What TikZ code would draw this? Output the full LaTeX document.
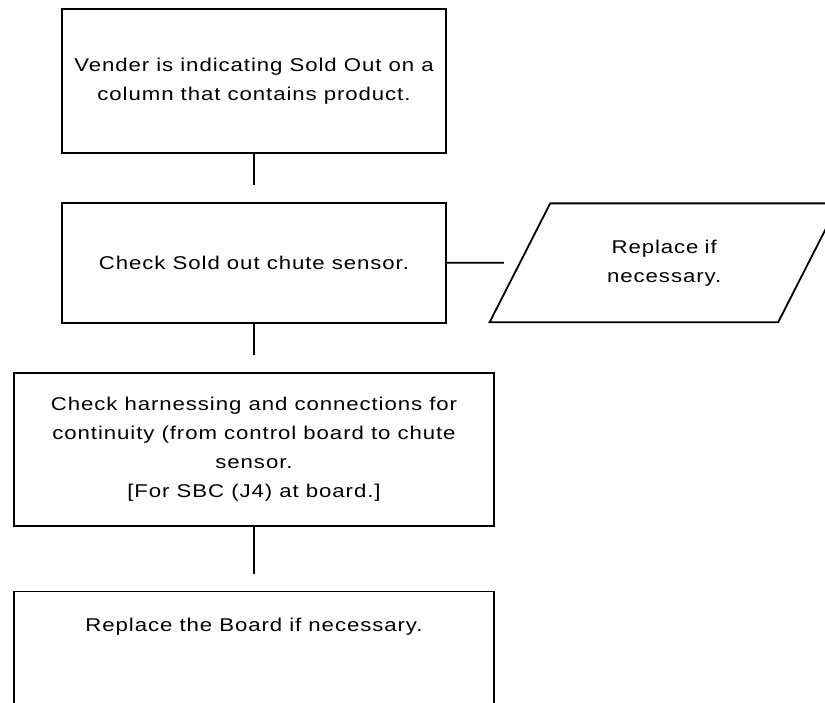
\documentclass[tikz,border=0pt]{standalone}
\usepackage{fontspec}
\setmainfont[FakeStretch=1.2, LetterSpace=5]{Liberation Sans}
\usetikzlibrary{positioning, shapes.geometric}

\begin{document}
\begin{tikzpicture}[
            x=1pt, y=-1pt,
            node distance=48pt,
            box/.style={rectangle, draw=black, line width=1.8pt, align=center,
                        inner sep=0pt, font=\fontsize{18.5}{29}\selectfont},
            slant/.style={trapezium, trapezium left angle=63, trapezium right angle=117,
                          draw=black, line width=1.8pt, text width=228pt,
                          inner xsep=0pt, inner ysep=36.3pt,
                          align=center, font=\fontsize{18.5}{29}\selectfont},
            link/.style={line width=1.8pt, shorten >=17pt}
        ]
            \useasboundingbox (0,0) rectangle (825,702);

            \node[box, minimum width=384pt, minimum height=144pt] (sold) at (254,81)
                {Vender is indicating Sold Out on a\\column that contains product.};
            \node[box, minimum width=384pt, minimum height=120pt, below=48pt of sold] (chute)
                {Check Sold out chute sensor.};
            \node[slant, right=72pt of chute] (fix) {Replace if\\necessary.};
            \node[box, minimum width=480pt, minimum height=153pt, below=48pt of chute] (wiring)
                {Check harnessing and connections for\\continuity (from control board to chute\\sensor.\\{[}For SBC (J4) at board.{]}};
            \node[box, minimum width=480pt, text height=34pt, text depth=100pt, inner ysep=6pt,
                  below=64pt of wiring] (board) {Replace the Board if necessary.};

            \draw[link] (sold) -- (chute);
            \draw[link, shorten >=15pt] (chute) -- (fix);
            \draw[link] (chute) -- (wiring);
            \draw[link] (wiring) -- (board);
        \end{tikzpicture}
\end{document}
